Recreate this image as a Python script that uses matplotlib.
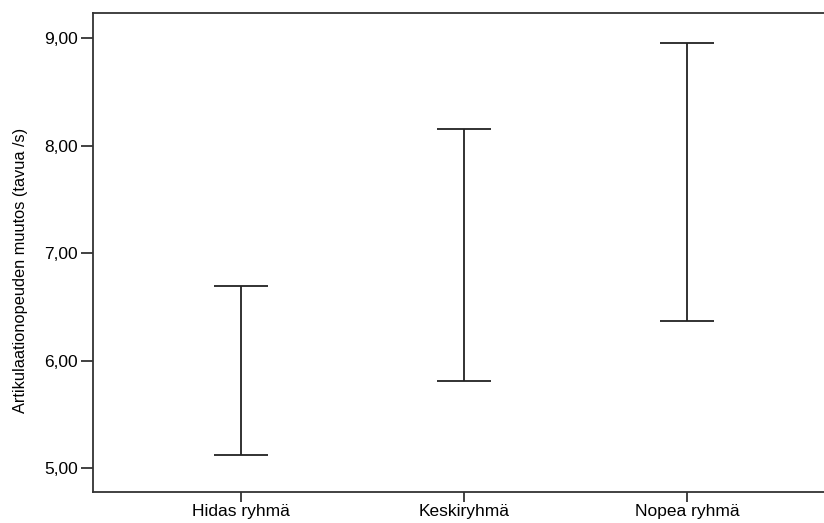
import matplotlib.pyplot as plt

groups = ['Hidas ryhmä', 'Keskiryhmä', 'Nopea ryhmä']
lower = [5.124, 5.812, 6.370]
upper = [6.700, 8.153, 8.953]
yticks = [5, 6, 7, 8, 9]
ytick_labels = ['5,00', '6,00', '7,00', '8,00', '9,00']

plt.rcParams['font.family'] = ['Liberation Sans', 'DejaVu Sans']

fig = plt.figure(figsize=(8.24, 5.23), dpi=100)
ax = fig.add_axes([0.1129, 0.0593, 0.9005, 0.9159])

x = list(range(len(groups)))
mid = [(lo + hi) / 2 for lo, hi in zip(lower, upper)]
half = [(hi - lo) / 2 for lo, hi in zip(lower, upper)]
ax.errorbar(x, mid, yerr=half, fmt='none', ecolor='#222222', elinewidth=1.3,
            capsize=19.5, capthick=1.3)

ax.set_xlim(-0.6637, 2.6637)
ax.set_ylim(4.78, 9.235)
ax.set_xticks(x)
ax.set_xticklabels(groups, fontsize=12.5)
ax.set_yticks(yticks)
ax.set_yticklabels(ytick_labels, fontsize=12.5)
ax.tick_params(axis='y', length=9, width=1.3, color='#333333', pad=2)
ax.tick_params(axis='x', length=7, width=1.3, color='#333333', pad=2)
for s in ax.spines.values():
    s.set_linewidth(1.3)
    s.set_color('#333333')
ax.set_ylabel('Artikulaationopeuden muutos (tavua /s)', fontsize=11.8)
ax.yaxis.set_label_coords(-0.0876, 0.4635)

fig.savefig('out.png', dpi=100)
